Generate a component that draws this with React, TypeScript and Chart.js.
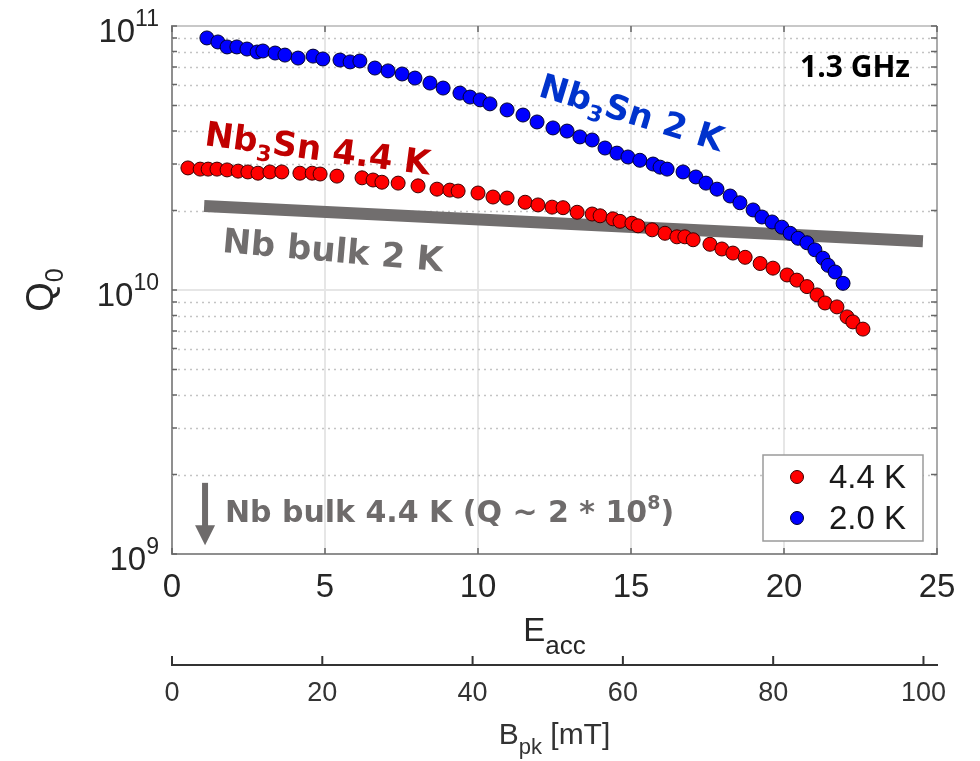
import React, { useEffect, useRef } from "react";
import { Chart, registerables } from "chart.js";
Chart.register(...registerables);

// ---------------- data ----------------
const eaccTicks = [0, 5, 10, 15, 20, 25];
const bpkTicks = [0, 20, 40, 60, 80, 100];
const qDecadeTicks = [1e9, 1e10, 1e11];
const qMinorFactors = [2, 3, 4, 5, 6, 7, 8, 9];
const yTickBase = ["10", "10", "10"];
const yTickExp = ["9", "10", "11"];

// Nb3Sn at 4.4 K
const red44E = [0.52, 0.92, 1.18, 1.47, 1.8, 2.16, 2.48, 2.81, 3.2, 3.59, 4.18, 4.58, 4.84, 5.39, 6.21, 6.57, 6.86, 7.39, 8.04, 8.66, 9.08, 9.35, 10.0, 10.49, 10.95, 11.54, 11.96, 12.42, 12.78, 13.24, 13.73, 13.99, 14.41, 14.64, 15.03, 15.23, 15.69, 16.11, 16.5, 16.76, 17.03, 17.58, 17.97, 18.33, 18.73, 19.22, 19.64, 20.1, 20.42, 20.75, 21.08, 21.34, 21.73, 22.06, 22.25, 22.58];
const red44Q = [2.9e10, 2.87e10, 2.87e10, 2.87e10, 2.85e10, 2.82e10, 2.8e10, 2.77e10, 2.8e10, 2.8e10, 2.77e10, 2.77e10, 2.75e10, 2.7e10, 2.66e10, 2.61e10, 2.56e10, 2.54e10, 2.48e10, 2.41e10, 2.39e10, 2.37e10, 2.33e10, 2.25e10, 2.23e10, 2.15e10, 2.1e10, 2.06e10, 2.05e10, 1.97e10, 1.94e10, 1.91e10, 1.86e10, 1.82e10, 1.79e10, 1.75e10, 1.69e10, 1.64e10, 1.59e10, 1.59e10, 1.55e10, 1.49e10, 1.43e10, 1.38e10, 1.33e10, 1.26e10, 1.21e10, 1.14e10, 1.09e10, 1.03e10, 9.58e9, 8.93e9, 8.63e9, 7.91e9, 7.57e9, 7.11e9];

// Nb3Sn at 2.0 K
const blue20E = [1.14, 1.5, 1.8, 2.12, 2.45, 2.78, 2.97, 3.37, 3.69, 4.12, 4.61, 4.93, 5.49, 5.82, 6.14, 6.63, 7.06, 7.52, 7.94, 8.43, 8.86, 9.41, 9.74, 10.07, 10.39, 10.95, 11.47, 11.93, 12.45, 12.91, 13.33, 13.73, 14.15, 14.54, 14.9, 15.29, 15.72, 15.95, 16.18, 16.7, 17.12, 17.45, 17.81, 18.24, 18.56, 18.99, 19.28, 19.61, 19.93, 20.2, 20.46, 20.75, 21.01, 21.27, 21.44, 21.67, 21.93];
const blue20Q = [9.01e10, 8.7e10, 8.33e10, 8.33e10, 8.18e10, 7.97e10, 8.04e10, 7.9e10, 7.76e10, 7.56e10, 7.69e10, 7.5e10, 7.43e10, 7.31e10, 7.37e10, 6.93e10, 6.76e10, 6.58e10, 6.35e10, 6.08e10, 5.82e10, 5.57e10, 5.38e10, 5.25e10, 5.07e10, 4.81e10, 4.6e10, 4.33e10, 4.11e10, 4.0e10, 3.8e10, 3.7e10, 3.45e10, 3.3e10, 3.19e10, 3.1e10, 3.0e10, 2.92e10, 2.87e10, 2.8e10, 2.68e10, 2.54e10, 2.41e10, 2.27e10, 2.14e10, 2.01e10, 1.89e10, 1.81e10, 1.73e10, 1.64e10, 1.57e10, 1.51e10, 1.42e10, 1.32e10, 1.24e10, 1.17e10, 1.06e10];

// Nb bulk 2 K reference line
const nbBulkE = [1.05, 24.54];
const nbBulkQ = [2.08e10, 1.53e10];

// ---------------- styling ----------------
const AXIS_FONT = "'Liberation Sans', Arial, Helvetica, sans-serif";
const ANNOT_FONT = "'DejaVu Sans', sans-serif";
const GHZ_FONT = "'Open Sans', sans-serif";
const RED = "#ff0000";
const BLUE = "#0000ff";
const GRAY = "#716e6e";

type Part = { t: string; size: number; dy?: number };

function drawRich(
  ctx: CanvasRenderingContext2D,
  parts: Part[],
  x: number,
  y: number,
  o: { align: "left" | "center" | "right"; weight: string; family: string; color: string; angle?: number; yOff?: number }
) {
  ctx.save();
  ctx.translate(x, y);
  if (o.angle) ctx.rotate((o.angle * Math.PI) / 180);
  let w = 0;
  for (const p of parts) {
    ctx.font = `${o.weight} ${p.size}px ${o.family}`;
    w += ctx.measureText(p.t).width;
  }
  let cx = o.align === "left" ? 0 : o.align === "center" ? -w / 2 : -w;
  ctx.fillStyle = o.color;
  ctx.textAlign = "left";
  ctx.textBaseline = "alphabetic";
  for (const p of parts) {
    ctx.font = `${o.weight} ${p.size}px ${o.family}`;
    ctx.fillText(p.t, cx, (o.yOff || 0) + (p.dy || 0));
    cx += ctx.measureText(p.t).width;
  }
  ctx.restore();
}

// annotation anchors in data coordinates (E_acc, Q0)
const annotations = [
  { parts: [{ t: "Nb", size: 34 }, { t: "3", size: 22, dy: 8 }, { t: "Sn 4.4 K", size: 34 }], e: 4.77, q: 3.45e10, angle: 7.5, color: "#c00000" },
  { parts: [{ t: "Nb", size: 34 }, { t: "3", size: 22, dy: 8 }, { t: "Sn 2 K", size: 34 }], e: 15.03, q: 4.72e10, angle: 17, color: "#0033cc" },
  { parts: [{ t: "Nb bulk 2 K", size: 34 }], e: 5.26, q: 1.42e10, angle: 5, color: GRAY },
];

const decorPlugin = {
  id: "decor",
  beforeDatasetsDraw(chart: any) {
    const { ctx, chartArea: a, scales } = chart;
    const y = scales.y;
    ctx.save();
    ctx.strokeStyle = "#c4c4c4";
    ctx.lineWidth = 1.5;
    ctx.setLineDash([2, 4]);
    for (const d of qDecadeTicks.slice(0, -1)) {
      for (const f of qMinorFactors) {
        const py = Math.round(y.getPixelForValue(d * f)) + 0.5;
        ctx.beginPath();
        ctx.moveTo(a.left, py);
        ctx.lineTo(a.right, py);
        ctx.stroke();
      }
    }
    ctx.restore();
  },
  afterDatasetsDraw(chart: any) {
    const { ctx, chartArea: a, scales } = chart;
    const x = scales.x;
    const y = scales.y;
    ctx.save();
    // frame top & right
    ctx.lineWidth = 2;
    ctx.strokeStyle = "#c8c8c8";
    ctx.beginPath();
    ctx.moveTo(a.left, a.top);
    ctx.lineTo(a.right, a.top);
    ctx.stroke();
    ctx.strokeStyle = "#ababab";
    ctx.beginPath();
    ctx.moveTo(a.right, a.top);
    ctx.lineTo(a.right, a.bottom);
    ctx.stroke();
    // inner tick marks
    ctx.strokeStyle = "#666";
    ctx.lineWidth = 1.5;
    const yVals: number[] = [];
    for (const d of qDecadeTicks.slice(0, -1)) for (const f of qMinorFactors) yVals.push(d * f);
    for (const v of yVals.concat(qDecadeTicks)) {
      const py = y.getPixelForValue(v);
      ctx.beginPath();
      ctx.moveTo(a.left, py);
      ctx.lineTo(a.left + 5, py);
      ctx.moveTo(a.right - 6, py);
      ctx.lineTo(a.right, py);
      ctx.stroke();
    }
    for (const v of eaccTicks) {
      const px = x.getPixelForValue(v);
      ctx.beginPath();
      ctx.moveTo(px, a.bottom);
      ctx.lineTo(px, a.bottom - 6);
      ctx.moveTo(px, a.top);
      ctx.lineTo(px, a.top + 6);
      ctx.stroke();
    }
    ctx.restore();

    // rotated annotations
    for (const an of annotations) {
      drawRich(ctx, an.parts, x.getPixelForValue(an.e), y.getPixelForValue(an.q), {
        align: "center", weight: "bold", family: ANNOT_FONT, color: an.color, angle: an.angle, yOff: 12,
      });
    }
    // 1.3 GHz
    drawRich(ctx, [{ t: "1.3 GHz", size: 30 }], x.getPixelForValue(22.32), y.getPixelForValue(7.05e10), {
      align: "center", weight: "bold", family: GHZ_FONT, color: "#000", yOff: 11,
    });
    // Nb bulk 4.4 K arrow + note
    const ax = x.getPixelForValue(1.08);
    const aTop = y.getPixelForValue(1.86e9);
    const aTip = y.getPixelForValue(1.08e9);
    ctx.save();
    ctx.fillStyle = "#6e6b6b";
    ctx.fillRect(ax - 3, aTop, 6, aTip - aTop - 18);
    ctx.beginPath();
    ctx.moveTo(ax - 10, aTip - 20);
    ctx.lineTo(ax + 10, aTip - 20);
    ctx.lineTo(ax, aTip);
    ctx.closePath();
    ctx.fill();
    ctx.restore();
    drawRich(
      ctx,
      [{ t: "Nb bulk 4.4 K (Q ~ 2 * 10", size: 30 }, { t: "8", size: 19, dy: -13 }, { t: ")", size: 30 }],
      x.getPixelForValue(1.73),
      y.getPixelForValue(1.46e9),
      { align: "left", weight: "bold", family: ANNOT_FONT, color: "#6e6b6b", yOff: 11 }
    );

    // legend
    const bw = 160, bh = 86;
    const bx = a.right - 14 - bw;
    const by = a.bottom - 13 - bh;
    ctx.save();
    ctx.fillStyle = "#fff";
    ctx.fillRect(bx, by, bw, bh);
    ctx.strokeStyle = "#9a9a9a";
    ctx.lineWidth = 1.5;
    ctx.strokeRect(bx, by, bw, bh);
    const entries = [chart.data.datasets[1], chart.data.datasets[0]];
    entries.forEach((ds: any, i: number) => {
      const cy = by + 22 + i * 41;
      ctx.beginPath();
      ctx.arc(bx + 34, cy, 6.5, 0, Math.PI * 2);
      ctx.fillStyle = ds.backgroundColor;
      ctx.fill();
      ctx.strokeStyle = ds.borderColor;
      ctx.lineWidth = 1;
      ctx.stroke();
      ctx.fillStyle = "#1a1a1a";
      ctx.font = `33px ${AXIS_FONT}`;
      ctx.textBaseline = "middle";
      ctx.textAlign = "left";
      ctx.fillText(ds.label, bx + 66, cy + 2);
    });
    ctx.restore();
  },
  afterDraw(chart: any) {
    const { ctx, chartArea: a, scales } = chart;
    const y = scales.y;
    const x = scales.x;
    const x2 = scales.x2;
    // y tick labels with superscripts
    qDecadeTicks.forEach((v, i) => {
      const py = y.getPixelForValue(v);
      drawRich(ctx, [{ t: yTickBase[i], size: 33, dy: 16 }, { t: yTickExp[i], size: 23, dy: 0 }], a.left - 13, py, {
        align: "right", weight: "normal", family: AXIS_FONT, color: "#262626",
      });
    });
    // Q0 title
    drawRich(ctx, [{ t: "Q", size: 38 }, { t: "0", size: 25, dy: 10 }], 53, (a.top + a.bottom) / 2, {
      align: "center", weight: "normal", family: AXIS_FONT, color: "#262626", angle: -90,
    });
    // E_acc title
    drawRich(ctx, [{ t: "E", size: 33 }, { t: "acc", size: 26, dy: 13 }], (a.left + a.right) / 2, x.top + 87, {
      align: "center", weight: "normal", family: AXIS_FONT, color: "#262626",
    });
    // B_pk axis upward ticks
    ctx.save();
    ctx.strokeStyle = "#333";
    ctx.lineWidth = 2;
    for (const v of bpkTicks) {
      const px = x2.getPixelForValue(v);
      ctx.beginPath();
      ctx.moveTo(px, x2.top);
      ctx.lineTo(px, x2.top - 9);
      ctx.stroke();
    }
    ctx.restore();
    // B_pk title
    drawRich(ctx, [{ t: "B", size: 30 }, { t: "pk", size: 22, dy: 10 }, { t: " [mT]", size: 30 }], (a.left + a.right) / 2, x2.top + 79, {
      align: "center", weight: "normal", family: AXIS_FONT, color: "#333",
    });
  },
};

export default function App() {
  const ref = useRef<HTMLCanvasElement | null>(null);
  useEffect(() => {
    if (!ref.current) return;
    const chart = new Chart(ref.current, {
      type: "scatter",
      data: {
        datasets: [
          {
            label: "2.0 K",
            data: blue20E.map((e, i) => ({ x: e, y: blue20Q[i] })),
            backgroundColor: BLUE,
            borderColor: "#00002e",
            pointRadius: 7,
            pointBorderWidth: 1,
            showLine: false,
            order: 1,
          } as any,
          {
            label: "4.4 K",
            data: red44E.map((e, i) => ({ x: e, y: red44Q[i] })),
            backgroundColor: RED,
            borderColor: "#3a0000",
            pointRadius: 7,
            pointBorderWidth: 1,
            showLine: false,
            order: 2,
          } as any,
          {
            label: "Nb bulk 2 K",
            type: "line",
            data: nbBulkE.map((e, i) => ({ x: e, y: nbBulkQ[i] })),
            borderColor: GRAY,
            backgroundColor: GRAY,
            borderWidth: 12,
            borderCapStyle: "butt",
            pointRadius: 0,
            showLine: true,
            fill: false,
            tension: 0,
            order: 3,
          } as any,
        ],
      },
      options: {
        animation: false,
        responsive: false,
        maintainAspectRatio: false,
        events: [],
        layout: { padding: { left: 0, top: 26, right: 43, bottom: 0 } },
        plugins: { legend: { display: false }, tooltip: { enabled: false } },
        scales: {
          x: {
            type: "linear",
            position: "bottom",
            min: 0,
            max: 25,
            afterBuildTicks: (s: any) => { s.ticks = eaccTicks.map((v) => ({ value: v })); },
            afterFit: (s: any) => { s.height = 111; },
            ticks: { font: { family: AXIS_FONT, size: 33 }, color: "#262626", padding: 14, maxRotation: 0, autoSkip: false },
            grid: { color: "#e6e6e6", lineWidth: 2, drawTicks: false },
            border: { color: "#8f8f8f", width: 2 },
          },
          x2: {
            type: "linear",
            position: "bottom",
            min: 0,
            max: 101.8,
            afterBuildTicks: (s: any) => { s.ticks = bpkTicks.map((v) => ({ value: v })); },
            afterFit: (s: any) => { s.height = 96; },
            ticks: { font: { family: AXIS_FONT, size: 27 }, color: "#333", padding: 12, maxRotation: 0, autoSkip: false },
            grid: { display: true, drawOnChartArea: false, drawTicks: false },
            border: { color: "#333", width: 2 },
          },
          y: {
            type: "logarithmic",
            min: 1e9,
            max: 1e11,
            afterBuildTicks: (s: any) => { s.ticks = qDecadeTicks.map((v) => ({ value: v, major: true })); },
            afterFit: (s: any) => { s.width = 172; },
            ticks: { display: false },
            grid: { color: "#e6e6e6", lineWidth: 2, drawTicks: false },
            border: { color: "#8f8f8f", width: 2 },
          },
        },
      } as any,
      plugins: [decorPlugin],
    });
    return () => chart.destroy();
  }, []);
  return (
    <div style={{ position: "fixed", left: 0, top: 0, width: 980, height: 761, background: "#fff" }}>
      <canvas ref={ref} width={980} height={761} style={{ width: 980, height: 761, display: "block" }} />
    </div>
  );
}
